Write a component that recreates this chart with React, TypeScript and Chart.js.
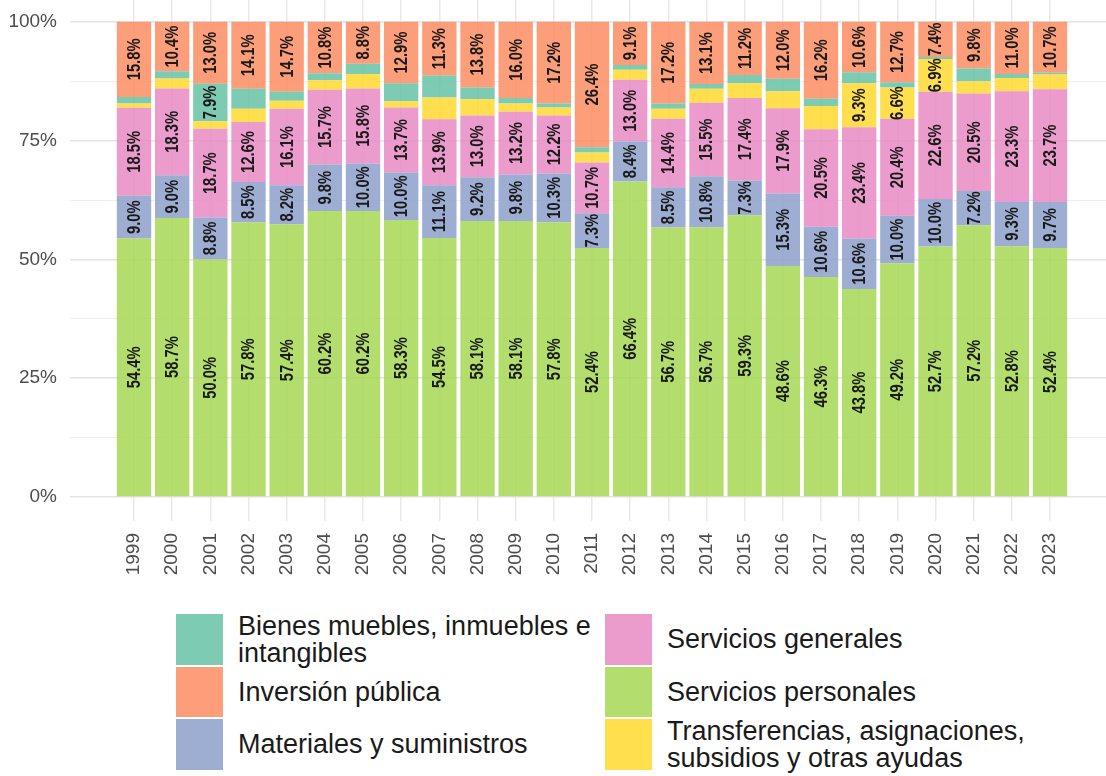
import React, { useEffect, useRef } from "react";
import { Chart, registerables } from "chart.js";

Chart.register(...registerables);

const years = [1999, 2000, 2001, 2002, 2003, 2004, 2005, 2006, 2007, 2008, 2009, 2010, 2011, 2012, 2013, 2014, 2015, 2016, 2017, 2018, 2019, 2020, 2021, 2022, 2023];

const serviciosPersonales = [54.4, 58.7, 50.0, 57.8, 57.4, 60.2, 60.2, 58.3, 54.5, 58.1, 58.1, 57.8, 52.4, 66.4, 56.7, 56.7, 59.3, 48.6, 46.3, 43.8, 49.2, 52.7, 57.2, 52.8, 52.4];
const materiales = [9.0, 9.0, 8.8, 8.5, 8.2, 9.8, 10.0, 10.0, 11.1, 9.2, 9.8, 10.3, 7.3, 8.4, 8.5, 10.8, 7.3, 15.3, 10.6, 10.6, 10.0, 10.0, 7.2, 9.3, 9.7];
const serviciosGenerales = [18.5, 18.3, 18.7, 12.6, 16.1, 15.7, 15.8, 13.7, 13.9, 13.0, 13.2, 12.2, 10.7, 13.0, 14.4, 15.5, 17.4, 17.9, 20.5, 23.4, 20.4, 22.6, 20.5, 23.3, 23.7];
const transferencias = [0.9, 2.1, 1.6, 2.8, 1.7, 2.0, 3.0, 1.3, 4.6, 3.4, 1.7, 1.7, 2.1, 2.1, 2.1, 2.9, 3.1, 3.6, 4.9, 9.3, 6.6, 6.9, 2.6, 2.8, 3.1];
const bienes = [1.4, 1.5, 7.9, 4.2, 1.9, 1.5, 2.2, 3.8, 4.6, 2.5, 1.2, 0.8, 1.1, 1.0, 1.1, 1.0, 1.7, 2.6, 1.5, 2.3, 1.1, 0.4, 2.7, 0.8, 0.4];
const inversion = [15.8, 10.4, 13.0, 14.1, 14.7, 10.8, 8.8, 12.9, 11.3, 13.8, 16.0, 17.2, 26.4, 9.1, 17.2, 13.1, 11.2, 12.0, 16.2, 10.6, 12.7, 7.4, 9.8, 11.0, 10.7];

const yTicks = [0, 12.5, 25, 37.5, 50, 62.5, 75, 87.5, 100];

const COLORS = {
  personales: "rgba(166,216,84,0.85)",
  materiales: "rgba(141,160,203,0.85)",
  generales: "rgba(231,138,195,0.85)",
  transferencias: "rgba(255,217,47,0.85)",
  bienes: "rgba(102,194,165,0.85)",
  inversion: "rgba(252,141,98,0.85)",
};

const series = [
  { label: "Servicios personales", data: serviciosPersonales, color: COLORS.personales },
  { label: "Materiales y suministros", data: materiales, color: COLORS.materiales },
  { label: "Servicios generales", data: serviciosGenerales, color: COLORS.generales },
  { label: "Transferencias, asignaciones, subsidios y otras ayudas", data: transferencias, color: COLORS.transferencias },
  { label: "Bienes muebles, inmuebles e intangibles", data: bienes, color: COLORS.bienes },
  { label: "Inversión pública", data: inversion, color: COLORS.inversion },
];

const legendItems = [
  { col: 0, row: 0, color: COLORS.bienes, lines: ["Bienes muebles, inmuebles e", "intangibles"] },
  { col: 0, row: 1, color: COLORS.inversion, lines: ["Inversión pública"] },
  { col: 0, row: 2, color: COLORS.materiales, lines: ["Materiales y suministros"] },
  { col: 1, row: 0, color: COLORS.generales, lines: ["Servicios generales"] },
  { col: 1, row: 1, color: COLORS.personales, lines: ["Servicios personales"] },
  { col: 1, row: 2, color: COLORS.transferencias, lines: ["Transferencias, asignaciones,", "subsidios y otras ayudas"] },
];

const FONT = '"Liberation Sans", Arial, Helvetica, sans-serif';

const labelPlugin = {
  id: "segLabels",
  afterDatasetsDraw(chart: any) {
    const ctx = chart.ctx;
    ctx.save();
    ctx.fillStyle = "#1a1a1a";
    ctx.font = `bold 18px ${FONT}`;
    ctx.textAlign = "center";
    ctx.textBaseline = "middle";
    chart.data.datasets.forEach((ds: any, di: number) => {
      const meta = chart.getDatasetMeta(di);
      meta.data.forEach((el: any, i: number) => {
        const v = ds.data[i].y;
        if (v < 5) return;
        const props = el.getProps(["x", "y", "base"], true);
        const yc = (props.y + props.base) / 2;
        ctx.save();
        ctx.translate(props.x, yc);
        ctx.rotate(-Math.PI / 2);
        ctx.scale(0.82, 1);
        ctx.fillText(v.toFixed(1) + "%", 0, 1);
        ctx.restore();
      });
    });
    ctx.restore();
  },
};

export default function App() {
  const ref = useRef<HTMLCanvasElement | null>(null);

  useEffect(() => {
    if (!ref.current) return;
    const chart = new Chart(ref.current, {
      type: "bar",
      data: {
        datasets: series.map((s) => ({
          label: s.label,
          data: years.map((yr, i) => ({ x: yr, y: s.data[i] })),
          backgroundColor: s.color,
          borderWidth: 0,
          barPercentage: 0.9,
          categoryPercentage: 1,
        })),
      },
      options: {
        animation: false,
        responsive: false,
        maintainAspectRatio: false,
        layout: { padding: 0 },
        plugins: {
          legend: { display: false },
          tooltip: { enabled: false },
        },
        scales: {
          x: {
            type: "linear",
            stacked: true,
            offset: false,
            min: 1997.323,
            max: 2024.467,
            afterBuildTicks: (scale: any) => {
              scale.ticks = years.map((v) => ({ value: v }));
            },
            afterFit: (scale: any) => {
              scale.height = 79;
              scale.paddingLeft = 0;
              scale.paddingRight = 0;
            },
            border: { display: false },
            grid: {
              offset: false,
              color: "#e9e9e9",
              lineWidth: 1.5,
              drawTicks: false,
            },
            ticks: {
              autoSkip: false,
              minRotation: 90,
              maxRotation: 90,
              padding: 12,
              color: "#4d4d4d",
              font: { family: FONT, size: 19 },
              callback: (v: any) => String(v),
            },
          },
          y: {
            type: "linear",
            stacked: true,
            min: -5.05,
            max: 104.6,
            afterBuildTicks: (scale: any) => {
              scale.ticks = yTicks.map((v) => ({ value: v }));
            },
            afterFit: (scale: any) => {
              scale.width = 70;
              scale.paddingTop = 0;
              scale.paddingBottom = 0;
            },
            border: { display: false },
            grid: {
              color: (c: any) => (c.tick && c.tick.value % 25 === 0 ? "#e4e4e4" : "#eeeeee"),
              lineWidth: (c: any) => (c.tick && c.tick.value % 25 === 0 ? 1.6 : 1),
              drawTicks: false,
            },
            ticks: {
              padding: 13,
              color: "#4d4d4d",
              font: { family: FONT, size: 19 },
              callback: (v: any) => (v % 25 === 0 ? v + "%" : ""),
            },
          },
        },
      },
      plugins: [labelPlugin],
    } as any);
    return () => chart.destroy();
  }, []);

  const rowTops = [614, 667, 719];
  const rowHeights = [51, 50, 51];
  const colSwatch = [176, 605];
  const colText = [238, 667];

  return (
    <div style={{ position: "absolute", left: 0, top: 0, width: 1106, height: 776, background: "#fff", overflow: "hidden" }}>
      <canvas ref={ref} width={1106} height={600} style={{ position: "absolute", left: 0, top: 0, width: 1106, height: 600 }} />
      {legendItems.map((it, k) => (
        <React.Fragment key={k}>
          <div
            style={{
              position: "absolute",
              left: colSwatch[it.col],
              top: rowTops[it.row],
              width: 47,
              height: rowHeights[it.row],
              background: it.color,
            }}
          />
          <div
            style={{
              position: "absolute",
              left: colText[it.col],
              top: rowTops[it.row],
              height: rowHeights[it.row],
              display: "flex",
              flexDirection: "column",
              justifyContent: "center",
              fontFamily: FONT,
              fontSize: 27,
              lineHeight: "27px",
              color: "#1a1a1a",
              whiteSpace: "nowrap",
            }}
          >
            {it.lines.map((l, j) => (
              <div key={j}>{l}</div>
            ))}
          </div>
        </React.Fragment>
      ))}
    </div>
  );
}
